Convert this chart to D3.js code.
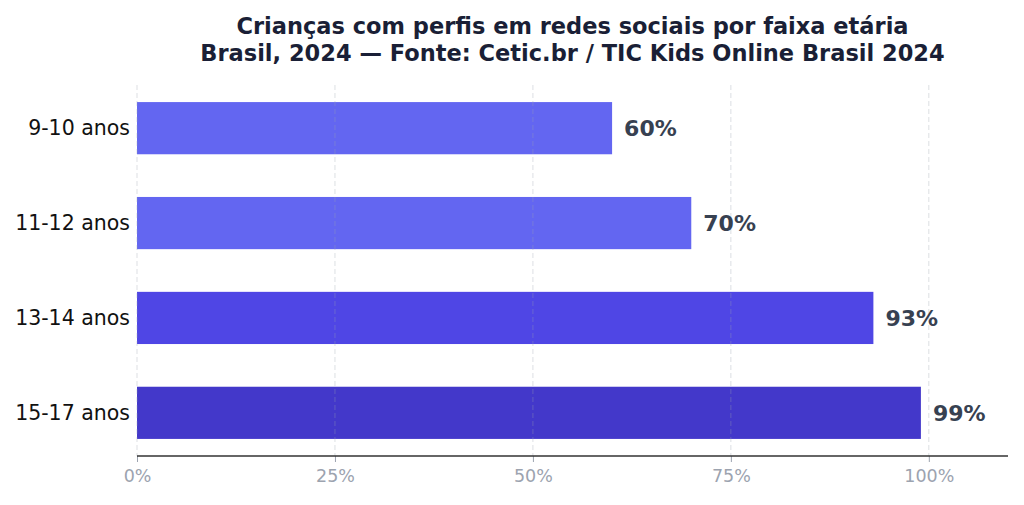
<html>
<head>
<script src="https://d3js.org/d3.v7.min.js"></script>
<style>
  body { margin: 0; background: #fff; }
  text { font-family: "DejaVu Sans", sans-serif; }
</style>
</head>
<body>
<svg id="chart" width="1024" height="505"></svg>
<script>
// dados
var categories = ["9-10 anos", "11-12 anos", "13-14 anos", "15-17 anos"];
var values = [60, 70, 93, 99];
var colors = ["#6366f1", "#6366f1", "#4f46e5", "#4338ca"];
var ticks = [0, 25, 50, 75, 100];
var titleLines = [
  "Crianças com perfis em redes sociais por faixa etária",
  "Brasil, 2024 — Fonte: Cetic.br / TIC Kids Online Brasil 2024"
];

var svg = d3.select("#chart");
var mLeft = 137, mRight = 1008, mTop = 85, mBottom = 456;

var x = d3.scaleLinear().domain([0, 110]).range([mLeft, mRight]);
var y = d3.scaleBand().domain(categories).range([mTop, mBottom])
  .paddingInner(0.45).paddingOuter(0.18);

// titulo
svg.selectAll(".title")
  .data(titleLines)
  .enter().append("text")
  .attr("x", (mLeft + mRight) / 2)
  .attr("y", function(d, i) { return 34 + i * 27; })
  .attr("text-anchor", "middle")
  .attr("font-size", 22.5)
  .attr("font-weight", "bold")
  .attr("fill", "#1a1f36")
  .text(function(d) { return d; });

// barras
svg.selectAll(".bar")
  .data(categories)
  .enter().append("rect")
  .attr("x", x(0))
  .attr("y", function(d) { return y(d); })
  .attr("width", function(d, i) { return x(values[i]) - x(0); })
  .attr("height", y.bandwidth())
  .attr("fill", function(d, i) { return colors[i]; });

// grade
svg.selectAll(".grid")
  .data(ticks)
  .enter().append("line")
  .attr("x1", function(d) { return x(d); })
  .attr("x2", function(d) { return x(d); })
  .attr("y1", mTop)
  .attr("y2", mBottom)
  .attr("stroke", "#9ca3af")
  .attr("stroke-opacity", 0.35)
  .attr("stroke-dasharray", "5,3")
  .attr("stroke-width", 1);

// eixo x
var xAxis = svg.append("g")
  .attr("transform", "translate(0," + mBottom + ")")
  .call(d3.axisBottom(x).tickValues(ticks).tickSize(6).tickPadding(8)
    .tickFormat(function(d) { return d + "%"; }));
xAxis.select(".domain").remove();
xAxis.selectAll(".tick line").attr("stroke", "#9ca3af");
xAxis.selectAll(".tick text")
  .attr("fill", "#9ca3af")
  .attr("font-size", 17.5)
  .attr("font-family", "DejaVu Sans, sans-serif");
svg.append("line")
  .attr("x1", mLeft).attr("x2", mRight)
  .attr("y1", mBottom).attr("y2", mBottom)
  .attr("stroke", "#333").attr("stroke-width", 1.4);

// rotulos y
svg.selectAll(".ylab")
  .data(categories)
  .enter().append("text")
  .attr("x", mLeft - 7)
  .attr("y", function(d) { return y(d) + y.bandwidth() / 2; })
  .attr("dy", "0.35em")
  .attr("text-anchor", "end")
  .attr("font-size", 20.5)
  .attr("fill", "#111")
  .text(function(d) { return d; });

// valores
svg.selectAll(".val")
  .data(categories)
  .enter().append("text")
  .attr("x", function(d, i) { return x(values[i]) + 12; })
  .attr("y", function(d) { return y(d) + y.bandwidth() / 2; })
  .attr("dy", "0.35em")
  .attr("font-size", 22)
  .attr("font-weight", "bold")
  .attr("fill", "#374151")
  .text(function(d, i) { return values[i] + "%"; });
</script>
</body>
</html>
